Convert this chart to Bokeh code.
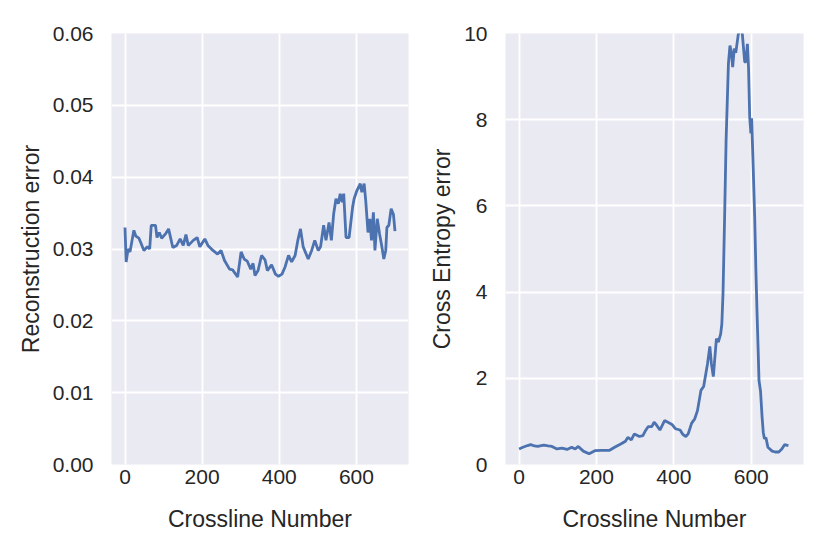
from bokeh.plotting import figure
from bokeh.layouts import row
from bokeh.models import Range1d, FixedTicker, PrintfTickFormatter
from bokeh.embed import file_html
from bokeh.resources import INLINE

# Left panel: reconstruction error vs crossline number
recon_x = [0, 3, 8, 13, 23, 28, 36, 40, 49, 58, 64, 68, 79, 83, 89, 95, 105, 113, 124, 134, 143,
           151, 158, 164, 177, 187, 194, 207, 215, 228, 240, 249, 258, 271, 279, 292, 301, 309,
           317, 326, 332, 337, 345, 354, 363, 369, 380, 390, 398, 407, 415, 424, 432, 441, 448,
           455, 462, 475, 484, 492, 501, 507, 515, 521, 529, 535, 541, 547, 553, 558, 563, 567,
           573, 581, 590, 594, 601, 610, 614, 620, 624, 630, 635, 639, 644, 648, 654, 660, 666,
           671, 676, 679, 684, 690, 696, 700]
recon_y = [0.0330, 0.0282, 0.0300, 0.0296, 0.0326, 0.0318, 0.0315, 0.0310, 0.0298, 0.0303, 0.0300,
           0.0333, 0.0333, 0.0316, 0.0323, 0.0315, 0.0321, 0.0328, 0.0302, 0.0305, 0.0314, 0.0305,
           0.0320, 0.0305, 0.0312, 0.0316, 0.0303, 0.0314, 0.0305, 0.0298, 0.0293, 0.0298, 0.0284,
           0.0272, 0.0271, 0.0261, 0.0296, 0.0286, 0.0283, 0.0272, 0.0280, 0.0263, 0.0270, 0.0291,
           0.0285, 0.0270, 0.0278, 0.0265, 0.0262, 0.0265, 0.0275, 0.0291, 0.0282, 0.0291, 0.0312,
           0.0328, 0.0303, 0.0286, 0.0298, 0.0312, 0.0298, 0.0303, 0.0333, 0.0312, 0.0337, 0.0312,
           0.0349, 0.0370, 0.0363, 0.0377, 0.0365, 0.0377, 0.0316, 0.0316, 0.0358, 0.0370, 0.0381,
           0.0391, 0.0379, 0.0391, 0.0368, 0.0323, 0.0342, 0.0312, 0.0351, 0.0298, 0.0342, 0.0321,
           0.0303, 0.0286, 0.0298, 0.0330, 0.0333, 0.0356, 0.0348, 0.0325]

# Right panel: cross entropy error vs crossline number
ce_x = [0, 10, 22, 30, 40, 48, 64, 75, 85, 98, 111, 124, 136, 145, 153, 166, 181, 196, 213, 234,
        247, 264, 275, 281, 290, 298, 311, 320, 327, 334, 343, 349, 354, 364, 376, 387, 395, 404,
        416, 423, 431, 437, 446, 454, 461, 470, 477, 487, 493, 497, 502, 510, 515, 521, 524, 527,
        531, 535, 541, 545, 549, 552, 556, 560, 566, 571, 577, 583, 586, 590, 593, 596, 599, 601,
        605, 609, 612, 615, 618, 620, 624, 628, 631, 634, 638, 643, 654, 662, 671, 679, 686, 696]
ce_y = [0.36, 0.40, 0.44, 0.46, 0.43, 0.42, 0.45, 0.43, 0.42, 0.36, 0.38, 0.35, 0.40, 0.36, 0.42,
        0.31, 0.25, 0.32, 0.33, 0.33, 0.40, 0.48, 0.54, 0.63, 0.57, 0.71, 0.65, 0.67, 0.79, 0.88,
        0.88, 0.98, 0.93, 0.80, 1.02, 0.97, 0.93, 0.83, 0.80, 0.70, 0.65, 0.71, 0.96, 1.06, 1.25,
        1.72, 1.81, 2.34, 2.74, 2.34, 2.04, 2.92, 2.84, 3.03, 3.26, 3.96, 5.66, 7.52, 9.30, 9.72,
        9.53, 9.22, 9.65, 9.55, 9.95, 10.2, 9.98, 9.35, 9.33, 9.76, 9.20, 8.06, 7.68, 8.03, 6.90,
        5.70, 4.50, 3.50, 2.60, 1.95, 1.70, 1.10, 0.75, 0.60, 0.62, 0.40, 0.31, 0.29, 0.29, 0.36,
        0.46, 0.44]

x_ticks = [0, 200, 400, 600]
recon_ticks = [0.0, 0.01, 0.02, 0.03, 0.04, 0.05, 0.06]
ce_ticks = [0, 2, 4, 6, 8, 10]

BG = "#EAEAF2"
LINE = "#4C72B0"
TXT = "#262626"
FONT = "Liberation Sans"


def style(p, xlabel, ylabel):
    p.background_fill_color = BG
    p.border_fill_color = "white"
    p.outline_line_color = None
    for ax in (p.xaxis[0], p.yaxis[0]):
        ax.axis_line_color = None
        ax.major_tick_line_color = None
        ax.minor_tick_line_color = None
        ax.major_tick_out = 0
        ax.major_tick_in = 0
        ax.minor_tick_out = 0
        ax.minor_tick_in = 0
        ax.major_label_text_font = FONT
        ax.major_label_text_font_size = "21px"
        ax.major_label_text_color = TXT
        ax.axis_label_text_font = FONT
        ax.axis_label_text_font_size = "23px"
        ax.axis_label_text_font_style = "normal"
        ax.axis_label_text_color = TXT
    p.xaxis[0].axis_label = xlabel
    p.yaxis[0].axis_label = ylabel
    p.xaxis[0].major_label_standoff = 5
    p.xaxis[0].axis_label_standoff = 19
    p.yaxis[0].major_label_standoff = 18
    p.yaxis[0].axis_label_standoff = 6
    p.xgrid.grid_line_color = "white"
    p.ygrid.grid_line_color = "white"
    p.xgrid.grid_line_width = 1.8
    p.ygrid.grid_line_width = 1.8
    p.xaxis.ticker = FixedTicker(ticks=x_ticks)


p1 = figure(output_backend="svg", toolbar_location=None,
            frame_width=297, frame_height=431,
            min_border_left=111, min_border_top=33, min_border_right=10, min_border_bottom=70,
            x_range=Range1d(-35, 735), y_range=Range1d(0, 0.06))
p1.line(recon_x, recon_y, line_color=LINE, line_width=2.8)
style(p1, "Crossline Number", "Reconstruction error")
p1.yaxis.ticker = FixedTicker(ticks=recon_ticks)
p1.yaxis.formatter = PrintfTickFormatter(format="%.2f")

p2 = figure(output_backend="svg", toolbar_location=None,
            frame_width=298, frame_height=431,
            min_border_left=87, min_border_top=33, min_border_right=10, min_border_bottom=70,
            x_range=Range1d(-35, 735), y_range=Range1d(0, 10))
p2.line(ce_x, ce_y, line_color=LINE, line_width=2.8)
style(p2, "Crossline Number", "Cross Entropy error")
p2.yaxis.ticker = FixedTicker(ticks=ce_ticks)

layout = row(p1, p2, spacing=0)

with open("out.html", "w") as f:
    f.write(file_html(layout, INLINE))
